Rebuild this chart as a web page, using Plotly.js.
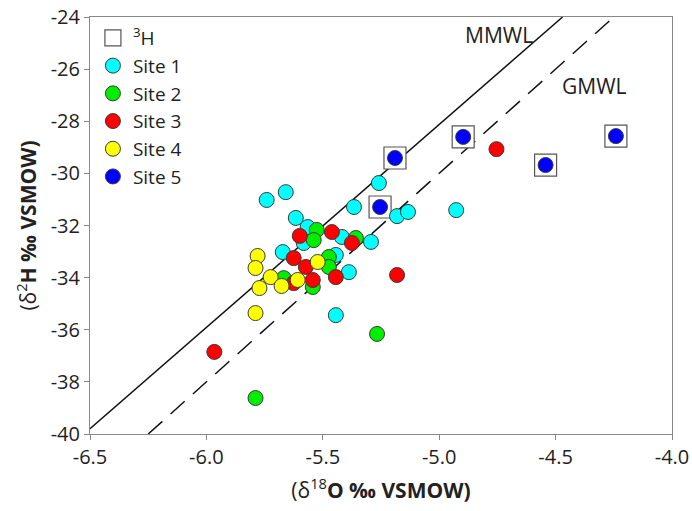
<!DOCTYPE html>
<html>
<head>
<meta charset="utf-8">
<script src="https://cdn.plot.ly/plotly-3.0.1.min.js"></script>
<style>html,body{margin:0;padding:0;background:#fff;}#chart{width:692px;height:511px;}</style>
</head>
<body>
<div id="chart"></div>
<script>
// Site data: δ18O (x) and δ2H (y), ‰ VSMOW
const site1X = [-5.741, -5.659, -5.616, -5.565, -5.582, -5.672, -5.444, -5.418, -5.293, -5.366, -5.259, -5.181, -5.134, -4.927, -5.388, -5.444];
const site1Y = [-31.02, -30.72, -31.71, -32.06, -32.67, -33.02, -33.13, -32.44, -32.63, -31.29, -30.37, -31.64, -31.48, -31.41, -33.79, -35.44];

const site2X = [-5.526, -5.539, -5.358, -5.474, -5.474, -5.668, -5.543, -5.267, -5.789];
const site2Y = [-32.17, -32.56, -32.48, -33.21, -33.59, -34.02, -34.36, -36.16, -38.62];

const site3X = [-5.599, -5.461, -5.375, -5.625, -5.573, -5.625, -5.543, -5.444, -5.181, -5.966, -4.754];
const site3Y = [-32.40, -32.25, -32.67, -33.25, -33.59, -34.21, -34.09, -33.98, -33.90, -36.85, -29.07];

const site4X = [-5.780, -5.789, -5.724, -5.677, -5.608, -5.522, -5.772, -5.789];
const site4Y = [-33.17, -33.63, -33.98, -34.32, -34.09, -33.40, -34.40, -35.36];

const site5X = [-5.190, -4.897, -4.543, -4.241, -5.254];
const site5Y = [-29.41, -28.60, -29.68, -28.57, -31.29];

// Samples with tritium (3H) analysis
const tritiumX = [-5.190, -4.897, -4.543, -4.241, -5.254];
const tritiumY = [-29.41, -28.60, -29.68, -28.57, -31.29];

// Meteoric water lines (end points)
const mmwlX = [-6.5, -4.47];
const mmwlY = [-39.8, -24.0];
const gmwlX = [-6.25, -4.25];
const gmwlY = [-40.0, -24.0];

const xTicks = [-6.5, -6.0, -5.5, -5.0, -4.5, -4.0];
const yTicks = [-40, -38, -36, -34, -32, -30, -28, -26, -24];

const outline = {color: '#3a3a3a', width: 1};
function siteTrace(name, x, y, color) {
  return {type: 'scatter', mode: 'markers', name: name, x: x, y: y,
    marker: {symbol: 'circle', size: 15, color: color, line: outline}, cliponaxis: false};
}

const traces = [
  {type: 'scatter', mode: 'lines', x: mmwlX, y: mmwlY, showlegend: false,
   line: {color: '#111', width: 1.5}, hoverinfo: 'skip'},
  {type: 'scatter', mode: 'lines', x: gmwlX, y: gmwlY, showlegend: false,
   line: {color: '#111', width: 1.5, dash: '19px,11px'}, hoverinfo: 'skip'},
  {type: 'scatter', mode: 'markers', name: '<sup>3</sup>H', x: tritiumX, y: tritiumY,
   marker: {symbol: 'square', size: 22, color: '#ffffff', line: {color: '#555', width: 1.2}}},
  siteTrace('Site 1', site1X, site1Y, '#00ffff'),
  siteTrace('Site 2', site2X, site2Y, '#00ee00'),
  siteTrace('Site 3', site3X, site3Y, '#ff0000'),
  siteTrace('Site 4', site4X, site4Y, '#ffff00'),
  siteTrace('Site 5', site5X, site5Y, '#0000ff')
];

const axisFont = {family: 'Open Sans, sans-serif', size: 20, color: '#222'};
const titleFont = {family: 'Open Sans, sans-serif', size: 21, color: '#222'};
const labelFont = {family: 'Open Sans, sans-serif', size: 21, color: '#222'};

const layout = {
  width: 692, height: 511,
  margin: {l: 90, r: 20, t: 17, b: 77},
  paper_bgcolor: '#fff', plot_bgcolor: '#fff',
  font: {family: 'Open Sans, sans-serif', color: '#222'},
  showlegend: true,
  legend: {x: 0.005, y: 0.995, xanchor: 'left', yanchor: 'top', bgcolor: 'rgba(0,0,0,0)',
    font: {family: 'Open Sans, sans-serif', size: 19, color: '#222'}, tracegroupgap: 0},
  xaxis: {
    range: [-6.5, -4.0], tickvals: xTicks, ticktext: xTicks.map(v => v.toFixed(1)),
    ticks: 'outside', ticklen: 5, tickcolor: '#888', tickfont: axisFont,
    showline: true, linecolor: '#888', linewidth: 1, mirror: true,
    showgrid: false, zeroline: false,
    title: {text: '(δ<sup>18</sup><b>O ‰ VSMOW)</b>', font: titleFont, standoff: 14}
  },
  yaxis: {
    range: [-40, -24], tickvals: yTicks, ticktext: yTicks.map(String),
    ticks: 'outside', ticklen: 5, tickcolor: '#888', tickfont: axisFont,
    showline: true, linecolor: '#888', linewidth: 1, mirror: true,
    showgrid: false, zeroline: false,
    title: {text: '(δ<sup>2</sup><b>H ‰ VSMOW)</b>', font: titleFont, standoff: 8}
  },
  annotations: [
    {x: -4.745, y: -24.69, xref: 'x', yref: 'y', text: 'MMWL', showarrow: false, font: labelFont},
    {x: -4.335, y: -26.65, xref: 'x', yref: 'y', text: 'GMWL', showarrow: false, font: labelFont}
  ]
};

Plotly.newPlot('chart', traces, layout, {displayModeBar: false, staticPlot: true});
</script>
</body>
</html>
